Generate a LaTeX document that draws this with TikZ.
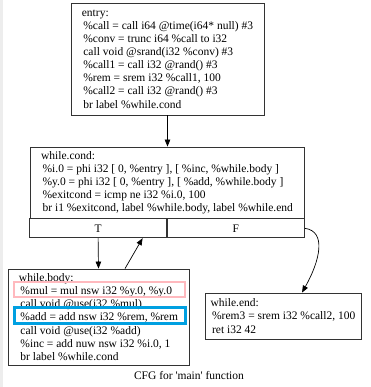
\documentclass[tikz,border=0pt]{standalone}
\usepackage{fontspec}
\setmainfont{Liberation Serif}
\usetikzlibrary{arrows.meta, positioning}

\newcommand\ind{\hspace*{1.5pt}}

\begin{document}
\begin{tikzpicture}[x=1pt, y=-1pt,
    block/.style={draw=black!80, line width=0.8pt, align=left, inner sep=0pt,
      font=\fontsize{11.5}{13.1}\selectfont},
    cell/.style={draw=black!80, line width=0.8pt, inner sep=0pt,
      minimum width=137pt, minimum height=19pt, font=\fontsize{11.5}{13.1}\selectfont},
    edge/.style={-{Triangle[length=7pt, width=5.5pt]}, line width=0.7pt},
    hl/.style={line width=#1}]
  \useasboundingbox (0,0) rectangle (370,387);
  \fill[black!7] (0,0) rectangle (3,387);

  % basic blocks
  \node[block, minimum width=193pt, minimum height=112pt] (entry) at (167.5,59) {%
    entry:\\
    \ind\%call = call i64 @time(i64* null) \#3\\
    \ind\%conv = trunc i64 \%call to i32\\
    \ind call void @srand(i32 \%conv) \#3\\
    \ind\%call1 = call i32 @rand() \#3\\
    \ind\%rem = srem i32 \%call1, 100\\
    \ind\%call2 = call i32 @rand() \#3\\
    \ind br label \%while.cond};
  \node[block, minimum width=274pt, minimum height=71pt] (cond) at (167,182.5) {%
    while.cond:\\
    \ind\%i.0 = phi i32 [ 0, \%entry ], [ \%inc, \%while.body ]\\
    \ind\%y.0 = phi i32 [ 0, \%entry ], [ \%add, \%while.body ]\\
    \ind\%exitcond = icmp ne i32 \%i.0, 100\\
    \ind br i1 \%exitcond, label \%while.body, label \%while.end};
  \node[cell, anchor=north east] (condT) at (cond.south) {T};
  \node[cell, anchor=north west] (condF) at (cond.south) {F};
  \node[block, minimum width=181pt, minimum height=96pt] (body) at (98.5,317) {%
    while.body:\\
    \ind\%mul = mul nsw i32 \%y.0, \%y.0\\
    \ind call void @use(i32 \%mul)\\
    \ind\%add = add nsw i32 \%rem, \%rem\\
    \ind call void @use(i32 \%add)\\
    \ind\%inc = add nuw nsw i32 \%i.0, 1\\
    \ind br label \%while.cond};
  \node[block, minimum width=156pt, minimum height=46pt] (end) at (283,316) {%
    while.end:\\
    \ind\%rem3 = srem i32 \%call2, 100\\
    \ind ret i32 42};

  % highlights
  \draw[hl=2.2pt, draw={rgb,255:red,255;green,185;blue,190}] (14,282) rectangle (185,297);
  \draw[hl=3pt, draw={rgb,255:red,0;green,160;blue,225}] (14,307.5) rectangle (185,323.5);

  % edges
  \draw[edge] (entry.south) -- (entry.south |- cond.north);
  \draw[edge] (condT.south) -- (body.north);
  \draw[edge] ([xshift=26.5pt]body.north) -- ([xshift=44.5pt]condT.south);
  \coordinate (endin) at ([xshift=19pt]end.north);
  \draw[edge] (condF.east) .. controls +(22,3) and +(18,-32) .. (endin);

  \node[font=\fontsize{11.5}{12}\selectfont] (caption) at (189,376) {CFG for \textquotesingle main\textquotesingle{} function};
\end{tikzpicture}
\end{document}
